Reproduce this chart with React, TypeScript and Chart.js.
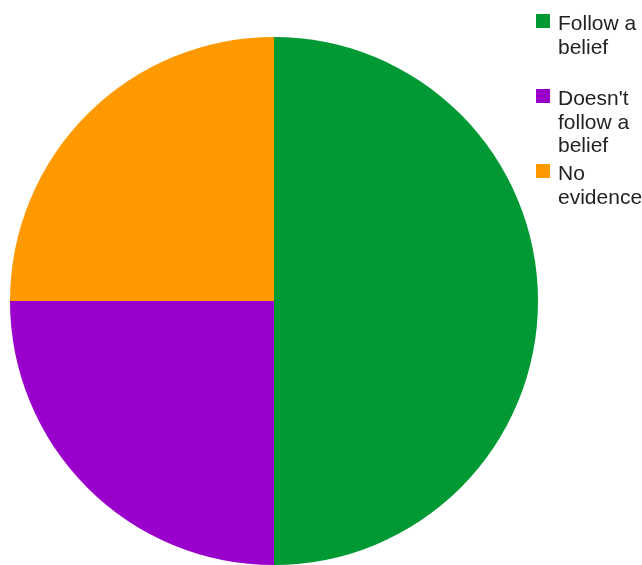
import React, { useEffect, useRef } from "react";
import { Chart, registerables } from "chart.js";

Chart.register(...registerables);

const labels: string[] = ["Follow a belief", "Doesn't follow a belief", "No evidence"];
const values: number[] = [50, 25, 25];
const colors: string[] = ["#009933", "#9900cc", "#ff9900"];

const legendPlugin = {
  id: "wrappedLegend",
  afterDraw(chart: any) {
    const ctx = chart.ctx as CanvasRenderingContext2D;
    const font = "21px 'Liberation Sans', Arial, sans-serif";
    ctx.save();
    ctx.font = font;
    ctx.textBaseline = "alphabetic";
    ctx.textAlign = "left";
    const maxW = 84;
    const x0 = 536;
    const textX = 558;
    labels.forEach((lab, i) => {
      const top = 14 + 75 * i;
      ctx.fillStyle = colors[i];
      ctx.fillRect(x0, top, 14, 14);
      const words = lab.split(" ");
      const lines: string[] = [];
      let cur = "";
      words.forEach((w) => {
        const t = cur ? cur + " " + w : w;
        if (cur && ctx.measureText(t).width > maxW) {
          lines.push(cur);
          cur = w;
        } else {
          cur = t;
        }
      });
      if (cur) lines.push(cur);
      ctx.fillStyle = "#222222";
      lines.forEach((ln, j) => {
        ctx.fillText(ln, textX, top + 16 + j * 23.5);
      });
    });
    ctx.restore();
  },
};

export default function App() {
  const ref = useRef<HTMLCanvasElement | null>(null);
  useEffect(() => {
    if (!ref.current) return;
    const chart = new Chart(ref.current, {
      type: "pie",
      data: {
        labels,
        datasets: [
          {
            data: values,
            backgroundColor: colors,
            borderWidth: 0,
          },
        ],
      },
      options: {
        animation: false,
        responsive: false,
        maintainAspectRatio: false,
        layout: { padding: { left: 10, right: 104, top: 37, bottom: 0 } },
        plugins: {
          legend: { display: false },
          tooltip: { enabled: false },
        },
      },
      plugins: [legendPlugin],
    });
    return () => chart.destroy();
  }, []);
  return (
    <div style={{ position: "absolute", left: 0, top: 0, width: 642, height: 565, overflow: "hidden", background: "#fff" }}>
      <canvas ref={ref} width={642} height={565} style={{ display: "block" }} />
    </div>
  );
}
